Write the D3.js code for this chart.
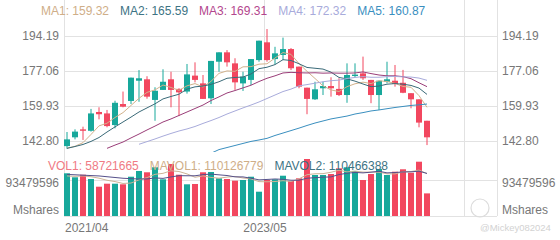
<!DOCTYPE html>
<html lang="en">
<head>
<meta charset="UTF-8">
<title>Monthly candles with MA and volume</title>
<script src="https://d3js.org/d3.v7.min.js"></script>
<style>
  body { margin: 0; background: #fff; }
  svg { display: block; font-family: Arial, "Liberation Sans", sans-serif; }
  .axis-label { font-size: 12px; fill: #777; }
  .legend { font-size: 12px; }
</style>
</head>
<body>
<div id="chart"></div>
<script>
  // ---- data (monthly bars) ----
  const months = ["2021/04","2021/05","2021/06","2021/07","2021/08","2021/09","2021/10","2021/11","2021/12",
    "2022/01","2022/02","2022/03","2022/04","2022/05","2022/06","2022/07","2022/08","2022/09","2022/10","2022/11","2022/12",
    "2023/01","2023/02","2023/03","2023/04","2023/05","2023/06","2023/07","2023/08","2023/09","2023/10","2023/11","2023/12",
    "2024/01","2024/02","2024/03","2024/04","2024/05","2024/06","2024/07","2024/08","2024/09","2024/10","2024/11","2024/12",
    "2025/01"];
  const opens  = [140.3,144.6,148.5,147.8,157.0,156.3,150.6,160.9,162.4,172.3,173.0,162.9,167.8,173.0,168.3,167.0,174.8,171.0,163.7,181.6,186.2,180.8,171.0,172.7,182.4,191.1,182.9,184.9,187.8,179.2,168.9,163.2,168.6,169.7,168.3,165.3,174.6,175.9,172.7,165.3,171.8,172.3,171.3,166.2,163.2,152.7];
  const highs  = [147.2,148.5,149.8,158.5,159.3,158.0,162.5,167.0,173.8,177.5,174.5,169.1,177.9,176.7,168.6,180.5,181.3,175.1,182.0,186.2,187.3,183.3,176.7,182.9,191.9,197.6,188.9,193.4,188.3,179.2,168.9,171.8,171.8,174.0,173.5,180.8,180.8,184.1,172.7,172.3,181.6,180.0,177.6,166.2,163.2,152.7];
  const lows   = [139.0,143.6,143.3,147.4,153.4,149.5,149.0,159.3,160.9,162.0,163.5,152.7,167.8,159.3,155.0,166.0,171.5,163.4,160.9,176.7,179.2,167.8,167.3,170.2,181.6,181.6,180.3,182.4,177.5,168.6,155.9,162.9,165.3,164.5,164.8,161.5,174.1,172.7,161.3,158.0,171.0,169.4,166.2,158.8,149.5,140.8];
  const closes = [143.6,147.4,147.8,156.3,155.9,150.1,161.5,159.6,173.8,173.5,164.5,167.4,171.8,167.8,166.6,175.4,172.7,163.4,182.0,186.2,181.3,171.5,174.3,182.9,191.9,182.4,185.7,187.8,178.4,169.4,163.4,168.1,169.7,168.6,165.3,175.1,175.3,173.5,165.3,172.3,173.0,170.7,166.4,163.2,151.8,144.6];
  // volume in millions of shares
  const volumes = [110.9,100.5,107.2,96.1,76.1,83.9,83.9,82.3,102.0,116.9,113.5,126.5,95.3,135.0,107.2,82.3,83.1,113.5,114.3,97.9,96.1,91.7,93.5,102.0,63.1,93.5,95.3,104.6,90.9,97.9,148.0,106.5,106.5,109.0,123.9,126.5,116.9,93.5,109.0,122.0,106.5,115.0,121.3,112.4,141.0,58.72];

  // moving-average lines as drawn (null = not on screen)
  const ma1 = [139.3,140.2,142.0,146.0,150.2,151.5,154.3,156.7,160.2,163.7,166.6,167.8,170.2,169.0,167.6,169.8,170.9,169.2,172.0,175.9,177.1,176.9,179.1,179.2,180.4,180.6,183.4,186.1,185.2,180.7,176.9,173.4,169.8,167.8,167.0,169.4,170.8,171.6,170.9,172.3,171.9,171.0,169.5,169.1,165.0,159.3];
  const ma2 = [139.2,140.1,141.1,142.6,144.5,147.2,149.7,152.1,154.5,157.0,159.0,161.0,163.4,164.6,165.7,168.2,169.3,169.7,170.5,171.8,173.5,173.9,174.1,175.6,178.2,178.9,180.2,182.6,182.2,180.6,178.8,178.4,178.0,176.5,173.9,173.2,172.1,170.7,169.4,169.7,170.6,170.9,170.6,170.0,168.7,165.6];
  const ma3 = [null,null,null,null,null,139.2,140.8,142.3,144.3,146.2,148.2,150.1,152.1,153.6,155.3,157.0,158.7,160.4,162.6,164.4,166.3,167.5,168.8,170.1,171.9,173.5,174.7,176.1,176.4,176.2,176.1,176.2,176.0,176.1,176.0,176.0,176.1,176.6,175.8,175.1,174.7,174.7,174.3,173.3,171.3,169.4];
  const ma4 = [null,null,null,null,null,null,null,null,null,141.2,142.5,143.8,145.2,146.5,147.7,148.7,149.9,151.4,152.8,154.3,156.0,157.5,159.0,160.4,161.9,163.6,165.3,167.0,168.2,169.8,170.4,171.1,171.8,172.3,172.6,173.4,173.9,174.3,174.0,174.0,174.3,174.4,174.2,174.1,173.6,172.5];
  const ma5 = [null,null,null,null,null,null,null,null,null,null,null,null,null,null,null,null,null,null,136.8,138.6,139.6,140.6,141.6,142.6,143.3,144.1,145.5,146.7,147.9,149.1,150.4,151.6,152.6,153.6,154.3,155.0,156.0,156.7,157.5,158.0,158.6,159.2,159.7,160.2,160.5,160.9];
  const mavol1 = [104.0,103.0,104.0,102.0,98.2,92.8,89.4,84.5,85.6,93.8,99.7,108.2,110.8,117.4,115.5,109.3,100.6,104.2,100.1,98.2,101.0,102.7,98.7,96.2,89.3,88.8,89.5,91.7,89.5,96.4,107.3,109.6,110.0,113.6,118.8,114.5,116.6,114.0,114.0,113.6,109.6,109.2,114.8,115.4,119.2,110.1];
  const mavol2 = [108.0,107.0,106.0,105.0,104.0,102.0,100.0,98.0,97.0,96.0,96.2,98.8,97.7,101.5,104.7,104.5,104.4,107.5,108.8,106.9,105.1,101.6,101.5,98.2,93.8,94.9,96.1,95.2,92.9,92.9,98.1,99.5,100.8,101.5,107.6,110.9,113.1,112.0,113.8,116.2,112.0,112.9,114.4,114.7,116.4,110.5];

  const maNames = ["MA1", "MA2", "MA3", "MA4", "MA5"];
  const maLast = ["159.32", "165.59", "169.31", "172.32", "160.87"];
  const volNames = ["VOL1", "MAVOL1", "MAVOL2"];
  const volLast = ["58721665", "110126779", "110466388"];

  const priceTicks = [142.80, 159.93, 177.06, 194.19];
  const volTicks = [93479596];
  const xTickIndex = [0, 25, 50];
  const xTickLabels = ["2021/04", "2023/05", ""];

  // ---- layout ----
  const width = 560, height = 240;
  const left = 64, right = 497;
  const priceBottom = 152, volTop = 152, volBottom = 216;
  const upColor = "#17a89b", downColor = "#f2475f";
  const maText = ["#cfae88", "#3d7384", "#b3468d", "#a8abdb", "#3a8fbf"];
  const maStroke = ["#d2b28c", "#3a6a78", "#9a3d78", "#a8abdb", "#3a8fbf"];
  const volText = ["#f07a84", "#cfae88", "#3d7384"];
  const volStroke = ["#cdb497", "#55508a"];

  const svg = d3.select("#chart").append("svg")
    .attr("width", width)
    .attr("height", height);

  const x = d3.scaleBand()
    .domain(months)
    .range([63, 63 + months.length * 8])
    .paddingInner(0.25)
    .paddingOuter(0.125);
  const xIdx = d3.scaleLinear().domain([0, 1]).range([left, left + x.step()]);
  const cx = i => x(months[i]) + x.bandwidth() / 2;

  const y = d3.scaleLinear().domain([142.80, 194.19]).range([141, 36]);
  const yVol = d3.scaleLinear().domain([0, 93479596]).range([volBottom, 180]);

  // clip areas for the two panes
  const defs = svg.append("defs");
  defs.append("clipPath").attr("id", "clipPrice").append("rect")
    .attr("x", left).attr("y", 0).attr("width", right - left).attr("height", priceBottom);
  defs.append("clipPath").attr("id", "clipVol").append("rect")
    .attr("x", left).attr("y", volTop).attr("width", right - left).attr("height", volBottom - volTop);

  // grid
  const grid = svg.append("g").attr("stroke", "#e2e2e2").attr("stroke-width", 1).attr("shape-rendering", "crispEdges");
  grid.selectAll(".hp").data(priceTicks).enter().append("line")
    .attr("x1", left).attr("x2", right)
    .attr("y1", d => Math.round(y(d)) + 0.5).attr("y2", d => Math.round(y(d)) + 0.5);
  grid.selectAll(".hv").data(volTicks.concat([0])).enter().append("line")
    .attr("x1", left).attr("x2", right)
    .attr("y1", d => Math.round(yVol(d)) + 0.5).attr("y2", d => Math.round(yVol(d)) + 0.5);
  grid.selectAll(".vx").data(xTickIndex).enter().append("line")
    .attr("x1", d => xIdx(d) + 0.5).attr("x2", d => xIdx(d) + 0.5)
    .attr("y1", 0).attr("y2", volBottom);
  grid.append("line")
    .attr("x1", right + 0.5).attr("x2", right + 0.5)
    .attr("y1", 0).attr("y2", volBottom);

  // axis labels, both sides
  [["end", left - 5], ["start", right + 5]].forEach(([anchor, tx]) => {
    svg.append("g").selectAll("text").data(priceTicks).enter().append("text")
      .attr("class", "axis-label")
      .attr("text-anchor", anchor)
      .attr("x", tx)
      .attr("y", d => y(d) + 4)
      .text(d => d.toFixed(2));
    svg.append("g").selectAll("text").data(volTicks).enter().append("text")
      .attr("class", "axis-label")
      .attr("text-anchor", anchor)
      .attr("x", tx)
      .attr("y", d => yVol(d) + 7)
      .text(d => d);
    svg.append("text")
      .attr("class", "axis-label")
      .attr("text-anchor", anchor)
      .attr("x", tx)
      .attr("y", yVol(0) - 2)
      .text("Mshares");
  });

  svg.append("g").selectAll("text").data(xTickIndex.filter((d, i) => xTickLabels[i])).enter().append("text")
    .attr("class", "axis-label")
    .attr("text-anchor", (d, i) => i === 0 ? "start" : "middle")
    .attr("x", d => xIdx(d) + 1)
    .attr("y", 232)
    .text((d, i) => xTickLabels[i]);

  // candles
  const price = svg.append("g").attr("clip-path", "url(#clipPrice)");
  const candle = price.selectAll(".candle").data(months).enter().append("g");
  const col = i => closes[i] >= opens[i] ? upColor : downColor;
  candle.append("line")
    .attr("x1", (d, i) => cx(i)).attr("x2", (d, i) => cx(i))
    .attr("y1", (d, i) => y(highs[i])).attr("y2", (d, i) => y(lows[i]))
    .attr("stroke", (d, i) => col(i)).attr("stroke-width", 1);
  candle.append("rect")
    .attr("x", d => x(d))
    .attr("width", x.bandwidth())
    .attr("y", (d, i) => y(Math.max(opens[i], closes[i])))
    .attr("height", (d, i) => Math.max(1, Math.abs(y(opens[i]) - y(closes[i]))))
    .attr("fill", (d, i) => col(i));

  // MA lines
  const maLine = d3.line()
    .defined(d => d[1] !== null)
    .x(d => cx(d[0]))
    .y(d => y(d[1]));
  [ma1, ma2, ma3, ma4, ma5].forEach((arr, k) => {
    price.append("path")
      .datum(arr.map((v, i) => [i, v]))
      .attr("fill", "none")
      .attr("stroke", maStroke[k])
      .attr("stroke-width", 1)
      .attr("d", maLine);
  });

  // volume
  const vol = svg.append("g").attr("clip-path", "url(#clipVol)");
  vol.selectAll("rect").data(months).enter().append("rect")
    .attr("x", d => x(d))
    .attr("width", x.bandwidth())
    .attr("y", (d, i) => yVol(volumes[i] * 1e6))
    .attr("height", (d, i) => volBottom - yVol(volumes[i] * 1e6))
    .attr("fill", (d, i) => col(i));
  const volLine = d3.line()
    .x(d => cx(d[0]))
    .y(d => yVol(d[1] * 1e6));
  [mavol1, mavol2].forEach((arr, k) => {
    vol.append("path")
      .datum(arr.map((v, i) => [i, v]))
      .attr("fill", "none")
      .attr("stroke", volStroke[k])
      .attr("stroke-width", 1)
      .attr("d", volLine);
  });

  // legends
  function legendRow(names, values, colors, x0, baseline) {
    let cur = x0;
    names.forEach((n, i) => {
      const t = svg.append("text")
        .attr("class", "legend")
        .attr("x", cur)
        .attr("y", baseline)
        .attr("fill", colors[i])
        .text(`${n}: ${values[i]}`);
      cur += t.node().getComputedTextLength() + 11;
    });
  }
  legendRow(maNames, maLast, maText, 41, 15);
  legendRow(volNames, volLast, volText, 48, 170);

  // watermark
  svg.append("circle")
    .attr("cx", 480).attr("cy", 208).attr("r", 9)
    .attr("fill", "none").attr("stroke", "#dcdcdc").attr("stroke-width", 1.2);
  svg.append("text")
    .attr("x", 480).attr("y", 231)
    .attr("font-size", "9.5px")
    .attr("fill", "#d2d2d2")
    .text("@Mickey082024");
</script>
</body>
</html>
